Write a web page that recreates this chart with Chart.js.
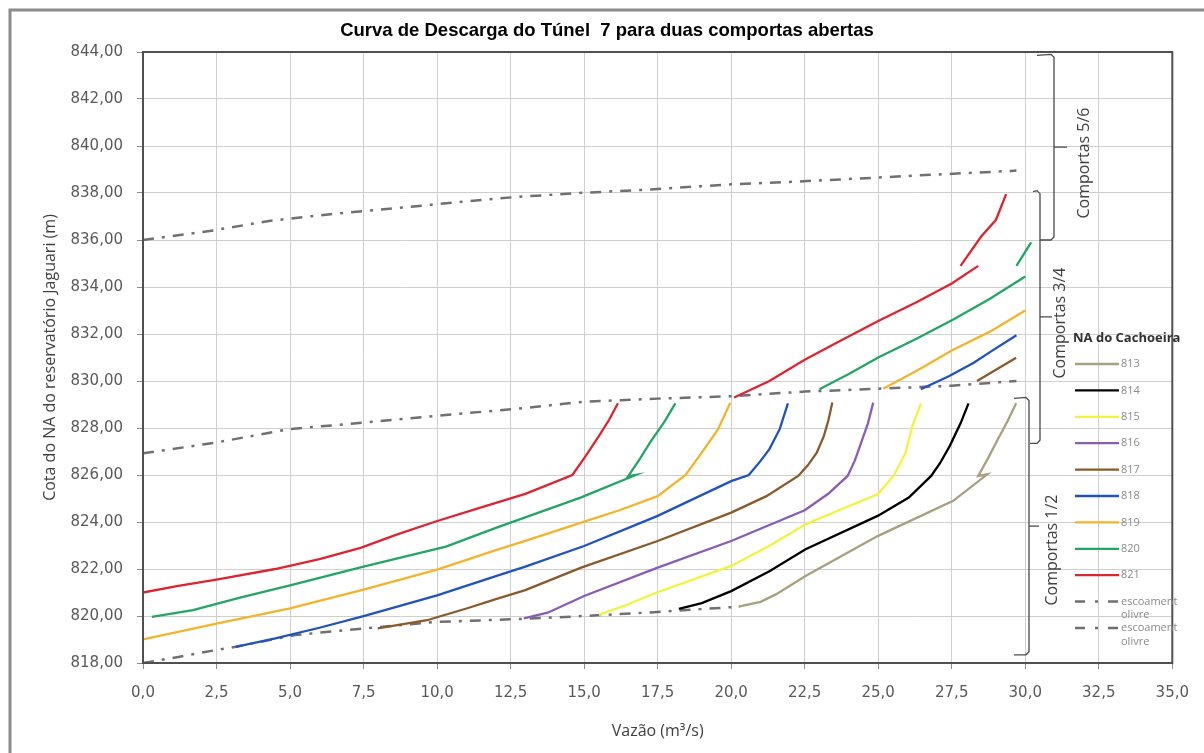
<!DOCTYPE html>
<html>
<head>
<meta charset="utf-8">
<script src="https://cdn.jsdelivr.net/npm/chart.js@4.4.1/dist/chart.umd.min.js"></script>
<style>
html,body{margin:0;padding:0;background:#fff;}
#wrap{width:1204px;height:753px;}
</style>
</head>
<body>
<div id="wrap"><canvas id="c" width="1204" height="753"></canvas></div>
<script>
// ---------- DATA ----------
const chartTitle = 'Curva de Descarga do Túnel  7 para duas comportas abertas';
const xTitle = 'Vazão (m³/s)';
const yTitle = 'Cota do NA do reservatório Jaguari (m)';
const legendTitle = 'NA do Cachoeira';
const seriesLabels = ['813', '814', '815', '816', '817', '818', '819', '820', '821'];
const freeFlowLabel = ['escoament', 'olivre'];
const xTicks = [0, 2.5, 5, 7.5, 10, 12.5, 15, 17.5, 20, 22.5, 25, 27.5, 30, 32.5, 35];
const yTicks = [818, 820, 822, 824, 826, 828, 830, 832, 834, 836, 838, 840, 842, 844];

// [vazão, cota] pairs; null = break between segments
const s813 = [[20.25,820.4],[21.0,820.6],[21.52,820.92],[22.53,821.7],[24.98,823.4],[27.55,824.9],[28.71,826.03],[28.4,825.96],[28.75,826.75],[29.06,827.5],[29.4,828.3],[29.69,829.05]];
const s814 = [[18.22,820.3],[19.0,820.55],[20.0,821.06],[21.3,821.9],[22.53,822.84],[24.98,824.26],[26.04,825.04],[26.8,825.96],[27.1,826.5],[27.43,827.23],[27.8,828.2],[28.07,829.05]];
const s815 = [[15.5,820.05],[16.5,820.5],[17.47,821.0],[20.0,822.13],[21.29,822.98],[22.53,823.9],[23.6,824.47],[24.98,825.18],[25.52,825.96],[25.93,826.95],[26.16,828.08],[26.45,829.05]];
const s816 = [[12.95,819.9],[13.76,820.14],[15.0,820.85],[17.5,822.06],[20.0,823.19],[22.5,824.5],[23.3,825.2],[23.96,825.96],[24.2,826.6],[24.42,827.38],[24.65,828.2],[24.83,829.08]];
const s817 = [[7.98,819.47],[9.66,819.82],[11.0,820.32],[12.0,820.72],[13.0,821.1],[14.9,822.06],[17.5,823.19],[20.0,824.4],[21.2,825.1],[22.28,825.96],[22.6,826.4],[22.91,826.95],[23.15,827.65],[23.3,828.3],[23.44,829.08],
  null, [28.36,830.0],[29.69,830.99]];
const s818 = [[3.15,818.69],[4.5,819.05],[6.0,819.5],[7.5,819.99],[10.0,820.88],[12.0,821.7],[13.0,822.1],[15.0,822.98],[17.5,824.26],[20.0,825.74],[20.6,826.0],[21.0,826.6],[21.3,827.1],[21.65,827.95],[21.93,829.05],
  null, [26.45,829.65],[27.4,830.2],[28.25,830.78],[28.85,831.27],[29.7,831.95]];
const s819 = [[0,819.0],[2.5,819.68],[5.0,820.32],[7.5,821.12],[10.0,821.97],[12.0,822.8],[13.0,823.2],[14.9,823.97],[16.2,824.5],[17.5,825.1],[18.45,826.0],[19.0,826.95],[19.55,827.94],[19.97,829.08],
  null, [25.17,829.67],[26.4,830.5],[27.5,831.3],[28.8,832.1],[30.0,833.0]];
const s820 = [[0.3,819.96],[1.7,820.25],[3.3,820.78],[5.0,821.3],[7.5,822.1],[10.3,822.95],[12.0,823.75],[13.0,824.2],[14.9,825.05],[16.75,826.0],[16.5,825.95],[16.9,826.7],[17.25,827.4],[17.75,828.3],[18.1,829.05],
  null, [23.0,829.65],[24.0,830.3],[25.0,831.0],[26.3,831.8],[27.6,832.65],[28.8,833.5],[30.0,834.45],
  null, [29.7,834.9],[30.2,835.9]];
const s821 = [[0,821.0],[1.2,821.28],[2.5,821.55],[4.5,822.0],[6.0,822.42],[7.4,822.9],[8.6,823.45],[9.9,824.0],[11.5,824.62],[13.0,825.2],[14.6,826.0],[15.05,826.8],[15.5,827.65],[15.85,828.35],[16.15,829.05],
  null, [20.1,829.3],[21.3,830.0],[22.5,830.9],[23.7,831.7],[25.0,832.55],[26.3,833.35],[27.5,834.15],[28.4,834.9],
  null, [27.8,834.9],[28.5,836.15],[29.0,836.85],[29.35,837.95]];
const freeFlowLow = [[0,818.0],[1.25,818.27],[2.48,818.55],[3.15,818.69],[5.17,819.19],[7.5,819.47],[10.0,819.75],[12.8,819.87],[15.0,820.0],[17.5,820.17],[20.3,820.4]];
const freeFlowMid = [[0,826.92],[2.48,827.38],[4.95,827.95],[7.5,828.23],[10.0,828.52],[12.8,828.83],[15.0,829.12],[17.5,829.25],[20.0,829.35],[22.5,829.55],[25.0,829.67],[27.5,829.8],[29.7,830.0]];
const freeFlowTop = [[0,836.0],[2.26,836.38],[4.28,836.81],[6.3,837.09],[8.54,837.35],[10.56,837.59],[12.58,837.82],[14.8,838.0],[16.95,838.13],[20.0,838.37],[22.1,838.48],[24.24,838.61],[26.38,838.75],[29.52,838.94],[29.7,838.96]];

const gateBrackets = [
  {label: 'Comportas 1/2', low: 818.35, high: 829.3},
  {label: 'Comportas 3/4', low: 827.35, high: 838.1},
  {label: 'Comportas 5/6', low: 836.0, high: 843.9}
];

// ---------- STYLE ----------
const seriesColors = ['#a7a07e', '#000000', '#f3f33c', '#8a5cb8', '#8b5a2b', '#2052c0', '#f2b42a', '#23a566', '#dd2530'];
const freeFlowColor = '#707070';

function toPoints(arr) {
  const out = [];
  let lastX = 0;
  arr.forEach(p => {
    if (p === null) { out.push({x: lastX, y: null}); }
    else { out.push({x: p[0], y: p[1]}); lastX = p[0]; }
  });
  return out;
}

const seriesData = [s813, s814, s815, s816, s817, s818, s819, s820, s821];
const datasets = seriesData.map((s, i) => ({
  label: seriesLabels[i],
  data: toPoints(s),
  borderColor: seriesColors[i],
  backgroundColor: seriesColors[i],
  borderWidth: 2.3,
  pointRadius: 0,
  fill: false,
  spanGaps: false,
  tension: 0
}));
datasets.push({
  label: freeFlowLabel.join(''),
  data: toPoints(freeFlowLow),
  borderColor: freeFlowColor, borderWidth: 2.5, borderDash: [11, 8, 3, 8],
  pointRadius: 0, fill: false, spanGaps: false, tension: 0
});
datasets.push({
  label: freeFlowLabel.join(''),
  data: toPoints(freeFlowMid.concat([null], freeFlowTop)),
  borderColor: freeFlowColor, borderWidth: 2.5, borderDash: [11, 8, 3, 8],
  pointRadius: 0, fill: false, spanGaps: false, tension: 0
});

const framePlugin = {
  id: 'frame',
  beforeDraw(chart) {
    const ctx = chart.ctx;
    ctx.save();
    ctx.fillStyle = '#ffffff';
    ctx.fillRect(0, 0, chart.width, chart.height);
    ctx.strokeStyle = '#8c8c8c';
    ctx.lineWidth = 3;
    ctx.beginPath();
    ctx.moveTo(10, chart.height + 5);
    ctx.lineTo(10, 10);
    ctx.lineTo(chart.width + 5, 10);
    ctx.stroke();
    ctx.restore();
  },
  afterDatasetsDraw(chart) {
    const {ctx, chartArea: a} = chart;
    ctx.save();
    ctx.strokeStyle = '#505050';
    ctx.lineWidth = 2;
    ctx.strokeRect(a.left, a.top, a.right - a.left, a.bottom - a.top);
    ctx.restore();
  }
};

const bracketGeom = [
  {x: 1029, topHook: 15, botHook: 15, tick: 10, tx: 1052, ty: 550},
  {x: 1040, topHook: 7, botHook: 10, tick: 12, tx: 1060, ty: 323},
  {x: 1054, topHook: 17, botHook: 14, tick: 13, tx: 1084, ty: 163}
];

const bracketPlugin = {
  id: 'brackets',
  afterDraw(chart) {
    const ctx = chart.ctx;
    const ys = chart.scales.y;
    ctx.save();
    gateBrackets.forEach((b, i) => {
      const g = bracketGeom[i];
      const yTop = ys.getPixelForValue(b.high);
      const yBot = ys.getPixelForValue(b.low);
      const yMid = ys.getPixelForValue((b.high + b.low) / 2);
      ctx.strokeStyle = '#4a4a4a';
      ctx.lineWidth = 1.3;
      ctx.beginPath();
      ctx.moveTo(g.x - g.topHook, yTop + 1);
      ctx.lineTo(g.x - 3, yTop);
      ctx.lineTo(g.x, yTop + 3);
      ctx.lineTo(g.x, yBot - 3);
      ctx.lineTo(g.x - 3, yBot);
      ctx.lineTo(g.x - g.botHook, yBot);
      ctx.moveTo(g.x, yMid);
      ctx.lineTo(g.x + g.tick, yMid);
      ctx.stroke();
      ctx.translate(g.tx, g.ty);
      ctx.rotate(-Math.PI / 2);
      ctx.fillStyle = '#404040';
      ctx.font = '16px "Open Sans"';
      ctx.textAlign = 'center';
      ctx.textBaseline = 'middle';
      ctx.fillText(b.label, 0, 0);
      ctx.setTransform(1, 0, 0, 1, 0, 0);
    });
    ctx.restore();
  }
};

const legendPlugin = {
  id: 'sideLegend',
  afterDraw(chart) {
    const ctx = chart.ctx;
    ctx.save();
    ctx.fillStyle = '#303030';
    ctx.font = 'bold 13px "Open Sans"';
    ctx.textAlign = 'left';
    ctx.textBaseline = 'middle';
    ctx.fillText(legendTitle, 1073, 338);
    chart.data.datasets.forEach((ds, i) => {
      const y = 364 + i * 26.4;
      ctx.strokeStyle = ds.borderColor;
      ctx.lineWidth = ds.borderWidth;
      ctx.setLineDash(ds.borderDash ? [10, 10, 3, 10] : []);
      ctx.beginPath();
      ctx.moveTo(1075, y);
      ctx.lineTo(1119, y);
      ctx.stroke();
      ctx.setLineDash([]);
      ctx.fillStyle = '#8a8a8a';
      ctx.font = '11px "Open Sans"';
      if (ds.borderDash) {
        ctx.fillText(freeFlowLabel[0], 1121, y);
        ctx.fillText(freeFlowLabel[1], 1121, y + 13.5);
      } else {
        ctx.fillText(ds.label, 1121, y);
      }
    });
    ctx.restore();
  }
};

new Chart(document.getElementById('c'), {
  type: 'line',
  data: {datasets},
  plugins: [framePlugin, bracketPlugin, legendPlugin],
  options: {
    responsive: false,
    animation: false,
    devicePixelRatio: 1,
    layout: {padding: {left: 31, right: 21, top: 0, bottom: 0}},
    plugins: {
      legend: {display: false},
      tooltip: {enabled: false},
      title: {
        display: true,
        text: chartTitle,
        color: '#000000',
        font: {family: '"Liberation Sans", Arial, sans-serif', size: 18.5, weight: 'bold', lineHeight: 1.2},
        padding: {top: 20, bottom: 9.8}
      }
    },
    scales: {
      x: {
        type: 'linear',
        min: 0, max: 35,
        afterFit(s) { s.height = 90; },
        afterBuildTicks(s) { s.ticks = xTicks.map(v => ({value: v})); },
        grid: {color: '#cfcfcf', lineWidth: 1, tickLength: 6, tickColor: '#8a8a8a', drawOnChartArea: true},
        border: {display: false},
        ticks: {
          color: '#595959',
          font: {family: '"DejaVu Sans"', size: 15},
          padding: 15,
          maxRotation: 0,
          autoSkip: false,
          callback: v => v.toFixed(1).replace('.', ',')
        },
        title: {
          display: true, text: xTitle, color: '#404040',
          font: {family: '"Open Sans"', size: 16},
          padding: {top: 0, bottom: 12}
        }
      },
      y: {
        type: 'linear',
        min: 818, max: 844,
        afterFit(s) { s.width = 112; },
        afterBuildTicks(s) { s.ticks = yTicks.map(v => ({value: v})); },
        grid: {color: '#cfcfcf', lineWidth: 1, tickLength: 6, tickColor: '#8a8a8a'},
        border: {display: false},
        ticks: {
          color: '#595959',
          font: {family: '"DejaVu Sans"', size: 15},
          padding: 14,
          autoSkip: false,
          callback: v => v.toFixed(2).replace('.', ',')
        },
        title: {
          display: true, text: yTitle, color: '#404040',
          font: {family: '"Open Sans"', size: 16},
          padding: {top: 9.4, bottom: 0}
        }
      }
    }
  }
});
</script>
</body>
</html>
